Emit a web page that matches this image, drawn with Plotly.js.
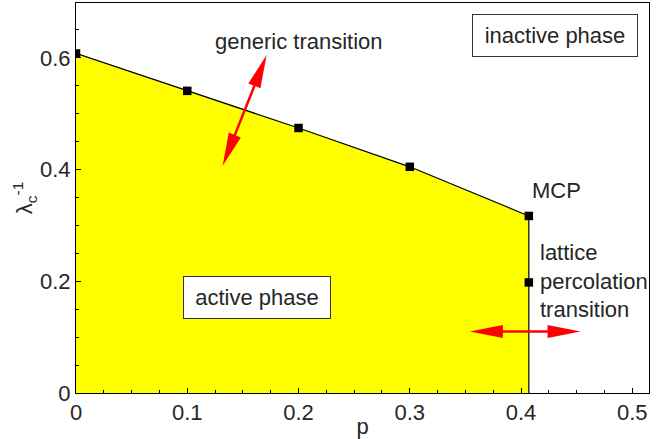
<!DOCTYPE html>
<html><head><meta charset="utf-8">
<script src="https://cdn.plot.ly/plotly-3.0.1.min.js"></script>
<style>html,body{margin:0;padding:0;background:#fff}</style>
</head><body><div id="chart" style="width:669px;height:439px"></div>
<script>
// ---- data ----
const pGeneric = [0, 0.1, 0.2, 0.3, 0.407];
const lambdaGeneric = [0.608, 0.541, 0.4745, 0.405, 0.317];
const pLatticeLine = [0.407, 0.407];
const lambdaLatticeLine = [0.317, 0];
const pPercPoint = [0.407];
const lambdaPercPoint = [0.198];
const xTickVals = [0, 0.1, 0.2, 0.3, 0.4, 0.5];
const xTickText = ['0', '0.1', '0.2', '0.3', '0.4', '0.5'];
const yTickVals = [0, 0.2, 0.4, 0.6];
const yTickText = ['0', '0.2', '0.4', '0.6'];
const labelText = ['generic transition', 'inactive phase', 'active phase', 'MCP', 'lattice<br>percolation<br>transition'];
const labelX = [0.2006, 0.4302, 0.1624, 0.4315, 0.4156];
const labelY = [0.629, 0.6397, 0.1706, 0.3622, 0.1999];
const arrowTail = [[0.1318, 0.407], [0.354, 0.110]];
const arrowTip = [[0.1713, 0.605], [0.4535, 0.110]];

// ---- layout constants ----
const M = {l: 76, r: 20, t: 3, b: 46};
const WID = 669, HEI = 439;
const XR = [0, 0.515], YR = [0, 0.6983];
const PW = WID - M.l - M.r, PH = HEI - M.t - M.b;
const FONT = 'Liberation Sans, Arial, Helvetica, sans-serif';
const TXT = '#262626';

function arrowShapes(a, b) {
  const sx = PW / (XR[1] - XR[0]), sy = PH / (YR[1] - YR[0]);
  const dx = (b[0] - a[0]) * sx, dy = (b[1] - a[1]) * sy;
  const len = Math.hypot(dx, dy);
  const ux = dx / len, uy = dy / len;
  const L = 33, HW = 6.5;
  const out = [];
  const baseA = [a[0] + ux * (L - 2) / sx, a[1] + uy * (L - 2) / sy];
  const baseB = [b[0] - ux * (L - 2) / sx, b[1] - uy * (L - 2) / sy];
  out.push({type: 'line', xref: 'x', yref: 'y', x0: baseA[0], y0: baseA[1], x1: baseB[0], y1: baseB[1],
    line: {color: '#ff0000', width: 2.5}});
  [[b, 1], [a, -1]].forEach(([pt, s]) => {
    const bx = -s * ux * L, by = -s * uy * L;
    const nx = -uy * HW, ny = ux * HW;
    const path = `M0,0 L${(bx + nx).toFixed(2)},${(by + ny).toFixed(2)} L${(bx - nx).toFixed(2)},${(by - ny).toFixed(2)} Z`;
    out.push({type: 'path', xref: 'x', yref: 'y', xsizemode: 'pixel', ysizemode: 'pixel',
      xanchor: pt[0], yanchor: pt[1], path: path, fillcolor: '#ff0000', line: {width: 0}});
  });
  return out;
}

const shapes = [];
arrowTail.forEach((a, i) => shapes.push(...arrowShapes(a, arrowTip[i])));

const traces = [
  {x: pGeneric, y: lambdaGeneric, type: 'scatter', mode: 'lines+markers', fill: 'tozeroy',
   fillcolor: '#ffff00', line: {color: '#000', width: 1.2},
   marker: {symbol: 'square', size: 8.5, color: '#000'}, hoverinfo: 'skip'},
  {x: pLatticeLine, y: lambdaLatticeLine, type: 'scatter', mode: 'lines',
   line: {color: '#000', width: 1.2}, hoverinfo: 'skip'},
  {x: pPercPoint, y: lambdaPercPoint, type: 'scatter', mode: 'markers',
   marker: {symbol: 'square', size: 8.5, color: '#000'}, hoverinfo: 'skip'}
];

const annotations = labelText.map((t, i) => {
  const a = {x: labelX[i], y: labelY[i], xref: 'x', yref: 'y', text: t, showarrow: false,
    font: {family: FONT, size: 22, color: TXT}, xanchor: 'center', yanchor: 'middle'};
  if (i === 1) Object.assign(a, {bordercolor: '#333', borderwidth: 1, bgcolor: '#fff', width: 162, height: 39, borderpad: 1});
  if (i === 2) Object.assign(a, {bordercolor: '#333', borderwidth: 1, bgcolor: '#fff', width: 144, height: 39, borderpad: 1});
  if (i === 4) Object.assign(a, {xanchor: 'left', align: 'left'});
  return a;
});

const layout = {
  width: WID, height: HEI, margin: M, showlegend: false,
  paper_bgcolor: '#fff', plot_bgcolor: '#fff',
  font: {family: FONT, size: 22, color: TXT},
  xaxis: {range: XR, tickmode: 'array', tickvals: xTickVals, ticktext: xTickText,
    ticks: 'inside', ticklen: 5, tickcolor: '#000', tickwidth: 1,
    minor: {tick0: 0, dtick: 0.025, ticks: 'inside', ticklen: 3, tickcolor: '#000'},
    showline: true, linecolor: '#000', linewidth: 1, mirror: true, showgrid: false, zeroline: false,
    tickfont: {family: FONT, size: 22, color: TXT},
    title: {text: 'p', font: {family: FONT, size: 22, color: TXT}, standoff: 0}},
  yaxis: {range: YR, tickmode: 'array', tickvals: yTickVals, ticktext: yTickText,
    ticks: 'inside', ticklen: 5, tickcolor: '#000', tickwidth: 1,
    minor: {tick0: 0, dtick: 0.05, ticks: 'inside', ticklen: 3, tickcolor: '#000'},
    showline: true, linecolor: '#000', linewidth: 1, mirror: true, showgrid: false, zeroline: false,
    tickfont: {family: FONT, size: 22, color: TXT},
    title: {text: 'λ<sub>c</sub><sup>-1</sup>', font: {family: FONT, size: 22, color: TXT}, standoff: 0}},
  shapes: shapes,
  annotations: annotations
};

Plotly.newPlot('chart', traces, layout, {displayModeBar: false, staticPlot: true});
</script></body></html>
